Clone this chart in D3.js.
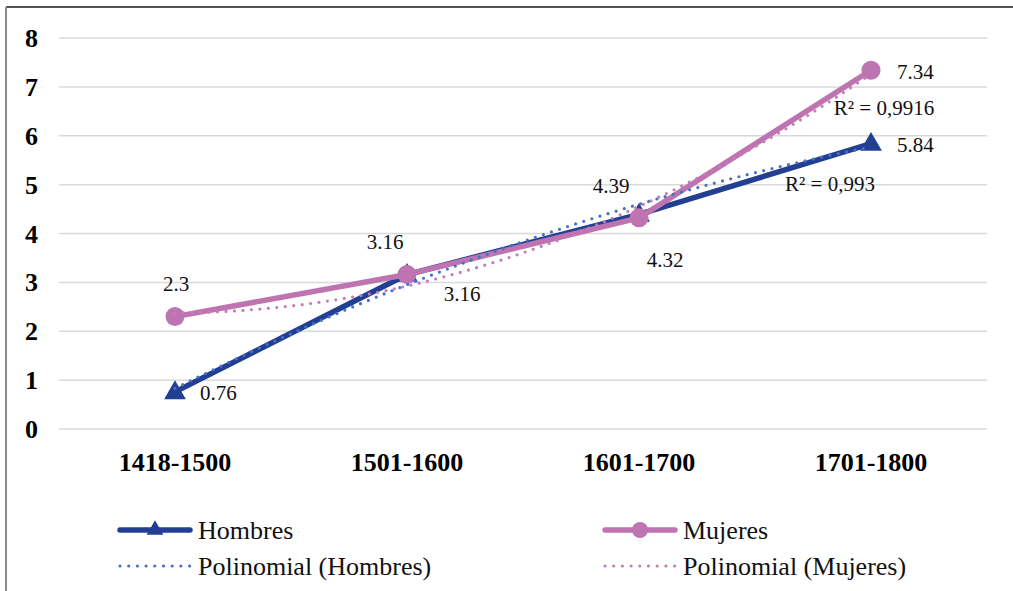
<!DOCTYPE html>
<html>
<head>
<meta charset="utf-8">
<script src="https://cdn.jsdelivr.net/npm/d3@7"></script>
<style>
  html,body{margin:0;padding:0;background:#fff;}
  svg{display:block;}
  svg text{font-family:"Liberation Serif","Times New Roman","DejaVu Serif",Times,serif;}
</style>
</head>
<body>
<div id="chart"></div>
<script>
// periods and series values
const periods=["1418-1500","1501-1600","1601-1700","1701-1800"];
const hombres=[0.76,3.16,4.39,5.84];
const mujeres=[2.3,3.16,4.32,7.34];
const yTicks=[0,1,2,3,4,5,6,7,8];
const r2Labels=["R² = 0,993","R² = 0,9916"];

const W=1013,H=591;
const BLUE="#233f93", PINK="#bd74b0";
const BLUE_T="#4472c4", PINK_T="#c67cb8";

const svg=d3.select("#chart").append("svg").attr("width",W).attr("height",H);

// frame (cropped on right/bottom)
svg.append("line").attr("x1",6).attr("x2",W).attr("y1",7).attr("y2",7)
  .attr("stroke","#1a1a1a").attr("stroke-width",1.5);
svg.append("line").attr("x1",6).attr("x2",6).attr("y1",7).attr("y2",H)
  .attr("stroke","#8a8a8a").attr("stroke-width",2);

const x=d3.scaleBand().domain(periods).range([59,987]);
const y=d3.scaleLinear().domain([0,8]).range([429,38]);
const cx=p=>x(p)+x.bandwidth()/2;

// gridlines
svg.append("g").selectAll("line").data(yTicks).join("line")
  .attr("x1",59).attr("x2",987).attr("y1",d=>y(d)).attr("y2",d=>y(d))
  .attr("stroke","#d9d9d9").attr("stroke-width",1.5);

// y labels
svg.append("g").selectAll("text").data(yTicks).join("text")
  .attr("x",38).attr("y",d=>y(d)).attr("dy","0.35em").attr("text-anchor","end")
  .style("font-size","26px").style("font-weight","bold")
  .text(d=>d);

// x labels
svg.append("g").selectAll("text").data(periods).join("text")
  .attr("x",d=>cx(d)).attr("y",471).attr("text-anchor","middle")
  .style("font-size","26px").style("font-weight","bold")
  .text(d=>d);

// least squares quadratic trendline (Excel "Polinomial" order 2)
function quadFit(vals){
  const xs=vals.map((_,i)=>i+1);
  const mx=d3.mean(xs);
  const p1=xs.map(v=>v-mx);
  const q=p1.map(v=>v*v), mq=d3.mean(q);
  const p2=q.map(v=>v-mq);
  const my=d3.mean(vals);
  const b1=d3.sum(vals.map((v,i)=>v*p1[i]))/d3.sum(p1.map(v=>v*v));
  const b2=d3.sum(vals.map((v,i)=>v*p2[i]))/d3.sum(p2.map(v=>v*v));
  return t=>{const a=t-mx;return my+b1*a+b2*(a*a-mq);};
}
const step=x.step();
const xi=t=>cx(periods[0])+(t-1)*step;

const lineGen=d3.line().x((d,i)=>cx(periods[i])).y(d=>y(d));

function drawSeries(vals,color){
  svg.append("path").datum(vals).attr("d",lineGen)
    .attr("fill","none").attr("stroke",color).attr("stroke-width",5.5)
    .attr("stroke-linejoin","round").attr("stroke-linecap","round");
}
drawSeries(hombres,BLUE);
// triangles
svg.append("g").selectAll("path").data(hombres).join("path")
  .attr("d",d3.symbol(d3.symbolTriangle2,340))
  .attr("transform",(d,i)=>`translate(${cx(periods[i])},${y(d)+1})`)
  .attr("fill",BLUE);
drawSeries(mujeres,PINK);
svg.append("g").selectAll("circle").data(mujeres).join("circle")
  .attr("cx",(d,i)=>cx(periods[i])).attr("cy",d=>y(d)).attr("r",9.5).attr("fill",PINK);

// trendlines on top
[[hombres,BLUE_T],[mujeres,PINK_T]].forEach(([vals,col])=>{
  const f=quadFit(vals);
  const ts=d3.range(1,4.0001,0.05);
  svg.append("path").datum(ts)
    .attr("d",d3.line().x(t=>xi(t)).y(t=>y(f(t))))
    .attr("fill","none").attr("stroke",col).attr("stroke-width",3.2)
    .attr("stroke-linecap","round").attr("stroke-dasharray","0 8.5");
});

// data labels (offsets from the point)
const hOff=[[43,1],[55,19],[-28,-29],[20,1]];
const mOff=[[1,-33],[-22,-33],[26,42],[43,1]];
function labels(vals,off){
  svg.append("g").selectAll("text").data(vals).join("text")
    .attr("x",(d,i)=>cx(periods[i])+off[i][0]).attr("y",(d,i)=>y(d)+off[i][1])
    .attr("dy","0.35em").attr("text-anchor",(d,i)=>off[i][0]>=20&&Math.abs(off[i][1])<5?"start":"middle")
    .style("font-size","21px").attr("fill","#111")
    .text(d=>d);
}
labels(hombres,[[25,1],[55,19],[-28,-29],[26,1]]);
labels(mujeres,[[1,-33],[-22,-33],[26,42],[26,1]]);

// R² labels
svg.append("text").attr("x",830).attr("y",184).attr("dy","0.35em").attr("text-anchor","middle")
  .style("font-size","21px").attr("fill","#111").text(r2Labels[0]);
svg.append("text").attr("x",884).attr("y",108).attr("dy","0.35em").attr("text-anchor","middle")
  .style("font-size","21px").attr("fill","#111").text(r2Labels[1]);

// legend
const legend=[
  {name:"Hombres",x:118,y:530,color:BLUE,kind:"tri"},
  {name:"Mujeres",x:603,y:530,color:PINK,kind:"circ"},
  {name:"Polinomial (Hombres)",x:118,y:566,color:BLUE_T,kind:"dot"},
  {name:"Polinomial (Mujeres)",x:603,y:566,color:PINK_T,kind:"dot"}
];
legend.forEach(l=>{
  const g=svg.append("g");
  if(l.kind==="dot"){
    g.append("line").attr("x1",l.x+2).attr("x2",l.x+72).attr("y1",l.y).attr("y2",l.y)
      .attr("stroke",l.color).attr("stroke-width",3.2).attr("stroke-linecap","round")
      .attr("stroke-dasharray","0 8.7");
  }else{
    g.append("line").attr("x1",l.x+2).attr("x2",l.x+72).attr("y1",l.y).attr("y2",l.y)
      .attr("stroke",l.color).attr("stroke-width",5.5).attr("stroke-linecap","round");
    if(l.kind==="tri"){
      g.append("path").attr("d",d3.symbol(d3.symbolTriangle2,200))
        .attr("transform",`translate(${l.x+37},${l.y})`).attr("fill",l.color);
    }else{
      g.append("circle").attr("cx",l.x+37).attr("cy",l.y).attr("r",8).attr("fill",l.color);
    }
  }
  g.append("text").attr("x",l.x+80).attr("y",l.y).attr("dy","0.35em")
    .style("font-size","26px").attr("fill","#111").text(l.name);
});
</script>
</body>
</html>
